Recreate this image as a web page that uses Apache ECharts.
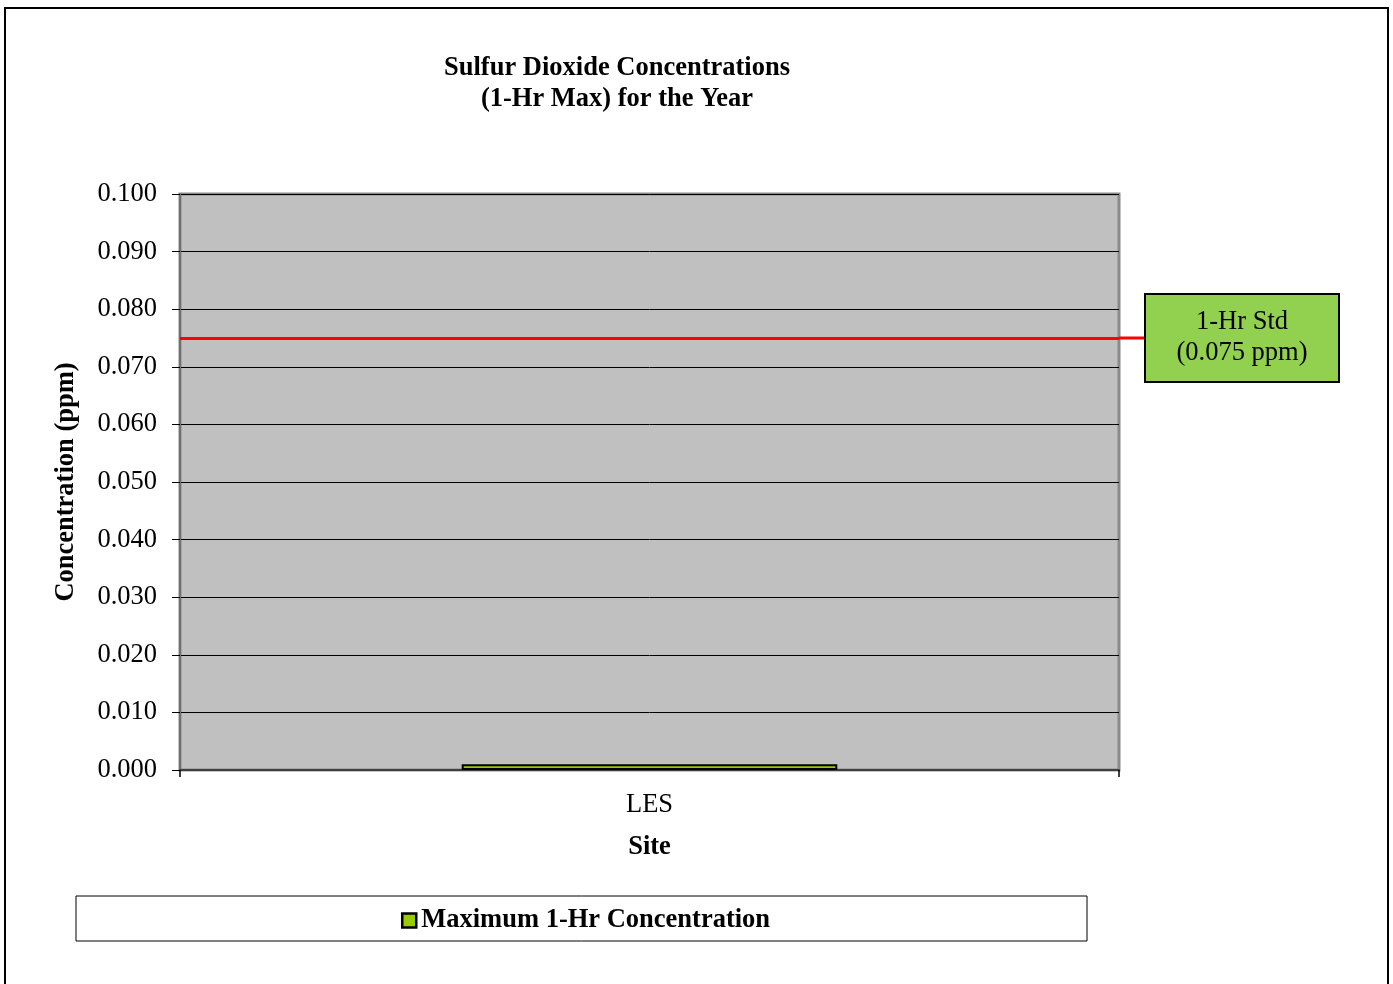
<!DOCTYPE html>
<html>
<head>
<meta charset="utf-8">
<script src="https://cdn.jsdelivr.net/npm/echarts@6/dist/echarts.min.js"></script>
<style>
html,body{margin:0;padding:0;background:#fff;}
#chart{width:1393px;height:984px;}
</style>
</head>
<body>
<div id="chart"></div>
<script>
const categories = ['LES'];
const maxConcentration = [0.001];
const standardValue = 0.075;
const yTicks = ['0.000','0.010','0.020','0.030','0.040','0.050','0.060','0.070','0.080','0.090','0.100'];
const seriesName = 'Maximum 1-Hr Concentration';
const titleText = 'Sulfur Dioxide Concentrations\n(1-Hr Max) for the Year';
const stdLabel = '1-Hr Std\n(0.075 ppm)';

const FONT = "'Liberation Serif', 'Times New Roman', serif";
const FS = 26.5;

const chart = echarts.init(document.getElementById('chart'), null, {renderer: 'canvas'});

const option = {
  backgroundColor: '#ffffff',
  animation: false,
  textStyle: {fontFamily: FONT},
  title: {
    text: titleText,
    left: 612,
    top: 48,
    textAlign: 'center',
    textStyle: {fontFamily: FONT, fontSize: FS, fontWeight: 'bold', color: '#000', lineHeight: 31}
  },
  grid: {
    left: 180, right: 274, top: 194, bottom: 214,
    show: true,
    backgroundColor: '#C0C0C0',
    borderColor: '#8a8a8a',
    borderWidth: 3
  },
  legend: {
    data: [seriesName],
    left: 396,
    top: 902,
    icon: 'rect',
    itemWidth: 14,
    itemHeight: 14,
    itemStyle: {borderColor: '#000', borderWidth: 2.5},
    textStyle: {fontFamily: FONT, fontSize: FS, fontWeight: 'bold', color: '#000'}
  },
  xAxis: {
    type: 'category',
    data: categories,
    boundaryGap: true,
    name: 'Site',
    nameLocation: 'middle',
    nameGap: 64,
    nameTextStyle: {fontFamily: FONT, fontSize: FS, fontWeight: 'bold', color: '#000'},
    axisLine: {show: true, lineStyle: {color: '#404040', width: 2}},
    axisTick: {show: true, alignWithLabel: false, length: 7, lineStyle: {color: '#000', width: 1.5}},
    axisLabel: {fontFamily: FONT, fontSize: FS, color: '#000', margin: 22}
  },
  yAxis: {
    type: 'value',
    min: 0,
    max: 0.1,
    interval: 0.01,
    name: 'Concentration (ppm)',
    nameLocation: 'middle',
    nameRotate: 90,
    nameGap: 100,
    nameTextStyle: {fontFamily: FONT, fontSize: FS, fontWeight: 'bold', color: '#000'},
    axisLine: {show: true, lineStyle: {color: '#707070', width: 2}},
    axisTick: {show: true, length: 8, lineStyle: {color: '#000', width: 1}},
    axisLabel: {
      fontFamily: FONT, fontSize: FS, color: '#000', margin: 23,
      padding: [3, 0, 0, 0],
      formatter: function (v) { return yTicks[Math.round(v * 100)]; }
    },
    splitLine: {show: true, lineStyle: {color: '#000', width: 1}}
  },
  series: [{
    name: seriesName,
    type: 'bar',
    data: maxConcentration,
    barWidth: '40%',
    itemStyle: {color: '#99CC00', borderColor: '#000', borderWidth: 2},
    markLine: {
      silent: true,
      precision: 6,
      symbol: ['none', 'none'],
      label: {show: false},
      lineStyle: {color: '#FF0000', width: 3, type: 'solid'},
      data: [{yAxis: standardValue}]
    }
  }]
};
chart.setOption(option);

// annotation box + connector, placed via library scale
const yStd = chart.convertToPixel({yAxisIndex: 0}, standardValue);
const gridRight = 1393 - 274;
const boxX = 1145, boxW = 194, boxH = 88;
chart.setOption({
  graphic: [
    {
      type: 'rect',
      shape: {x: 5, y: 8, width: 1383, height: 1000},
      style: {fill: 'none', stroke: '#000', lineWidth: 2},
      silent: true, z: 0
    },
    {
      type: 'rect',
      shape: {x: 76, y: 896, width: 1011, height: 45},
      style: {fill: 'none', stroke: '#000', lineWidth: 1},
      silent: true, z: 0
    },
    {
      type: 'line',
      shape: {x1: gridRight, y1: yStd, x2: boxX, y2: yStd},
      style: {stroke: '#FF0000', lineWidth: 3},
      silent: true, z: 10
    },
    {
      type: 'rect',
      shape: {x: boxX, y: yStd - boxH / 2, width: boxW, height: boxH},
      style: {fill: '#92D050', stroke: '#000', lineWidth: 2},
      silent: true, z: 10
    },
    {
      type: 'text',
      x: boxX + boxW / 2,
      y: yStd,
      style: {
        text: stdLabel,
        fontFamily: FONT, fontSize: FS, fill: '#000',
        align: 'center', verticalAlign: 'middle', lineHeight: 31
      },
      silent: true, z: 11
    }
  ]
});
</script>
</body>
</html>
